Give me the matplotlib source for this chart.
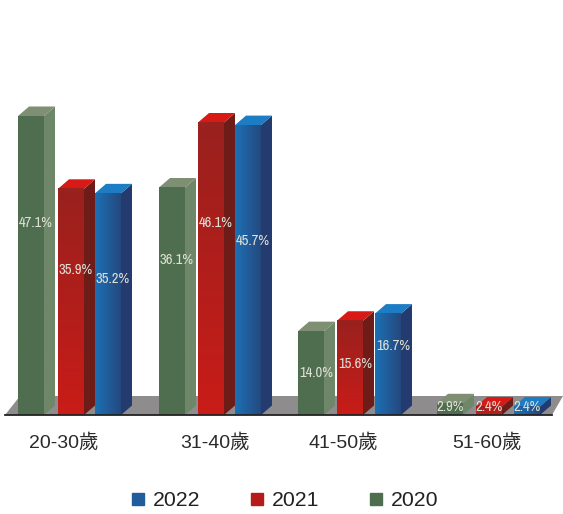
import numpy as np
import matplotlib
matplotlib.use('Agg')
import matplotlib.pyplot as plt
from matplotlib.patches import Patch, Polygon
from matplotlib.colors import LinearSegmentedColormap

groups = ['20-30歲', '31-40歲', '41-50歲', '51-60歲']
vals_2020 = [47.1, 36.1, 14.0, 2.9]
vals_2021 = [35.9, 46.1, 15.6, 2.4]
vals_2022 = [35.2, 45.7, 16.7, 2.4]
years = ['2022', '2021', '2020']

# where the value sits along each bar, in axis units
label_2020 = [30.7, 24.9, 7.5, 2.4]
label_2021 = [23.4, 30.6, 8.9, 2.4]
label_2022 = [22.0, 27.9, 11.7, 2.4]

W, H = 563, 514
base_px = 415
px_per_unit = 6.5
y_min = 1.1

plt.rcParams['font.family'] = ['Liberation Sans', 'Noto Sans CJK TC']
fig = plt.figure(figsize=(W / 100, H / 100), dpi=100)
ax = fig.add_axes([5 / W, (H - base_px) / H, 547 / W, base_px / H])
ax.set_xlim(5, 552)
ax.set_ylim(y_min, y_min + base_px / px_per_unit)

dx = 11
dy = 9.5 / px_per_unit
unit = 1 / px_per_unit

# floor
ax.add_patch(Polygon([(5, y_min), (552, y_min), (563, y_min + 19 * unit), (20, y_min + 19 * unit)],
                     color='#8e8c8c', lw=0, clip_on=False, zorder=1))

green = {'side': '#6e8769', 'top': '#7f8f74', 'cmap': ['#4f6e4f', '#4f6e4f'], 'horiz': True}
red = {'side': '#6e1c18', 'top': '#d81a16', 'cmap': ['#99211e', '#c91c18'], 'horiz': False}
blue = {'side': '#233b6f', 'top': '#1c7cc4', 'cmap': ['#1c70b5', '#25497f'], 'horiz': True}

starts = {
    '2020': [18, 159, 298, 437],
    '2021': [58, 198, 337, 476],
    '2022': [95, 235, 375, 514],
}
bar_w = 26


def draw_bar(x, v, st):
    ax.fill([x + bar_w, x + bar_w + dx, x + bar_w + dx, x + bar_w],
            [y_min, y_min + dy, v + dy, v], color=st['side'], lw=0, zorder=3)
    ax.fill([x, x + dx, x + bar_w + dx, x + bar_w],
            [v, v + dy, v + dy, v], color=st['top'], lw=0, zorder=3)
    cm = LinearSegmentedColormap.from_list('g', st['cmap'])
    grad = np.linspace(0, 1, 64).reshape(1, -1) if st['horiz'] else np.linspace(0, 1, 64).reshape(-1, 1)
    im = ax.imshow(grad, extent=[x, x + bar_w, y_min, v], cmap=cm, aspect='auto', zorder=4)
    im.set_clip_on(False)


for g in range(len(groups)):
    draw_bar(starts['2020'][g], vals_2020[g], green)
    draw_bar(starts['2021'][g], vals_2021[g], red)
    draw_bar(starts['2022'][g], vals_2022[g], blue)

ax.set_xlim(5, 552)
ax.set_ylim(y_min, y_min + base_px / px_per_unit)

for name, vals, labs in [('2020', vals_2020, label_2020), ('2021', vals_2021, label_2021), ('2022', vals_2022, label_2022)]:
    for g in range(len(groups)):
        off = 5 if g < 3 else 0
        ax.text(starts[name][g] + bar_w / 2 + off, labs[g], '%.1f%%' % vals[g],
                ha='center', va='center', color='#dfe0d6', zorder=6, fontsize=10.5,
                family=['Archivo Narrow', 'Liberation Sans'], clip_on=False)

# axis
for s in ['top', 'left', 'right']:
    ax.spines[s].set_visible(False)
ax.spines['bottom'].set_color('#222222')
ax.spines['bottom'].set_linewidth(1.3)
ax.spines['bottom'].set_zorder(7)
ax.patch.set_visible(False)
ax.set_yticks([])
ax.set_xticks([64, 215, 343, 487])
ax.set_xticklabels(groups, fontsize=14, color='#2a2a2a')
ax.tick_params(axis='x', length=0, pad=13)

handles = [Patch(color='#1f5d9c'), Patch(color='#b51c19'), Patch(color='#4f6e4f')]
fig.legend(handles, years, loc='center', bbox_to_anchor=(285.5 / W, (H - 501) / H), ncol=3, frameon=False,
           fontsize=15.3, handlelength=0.56, handleheight=0.56, handletextpad=0.42,
           columnspacing=2.38, labelcolor='#222222', borderpad=0)

fig.savefig('out.png', dpi=100)
